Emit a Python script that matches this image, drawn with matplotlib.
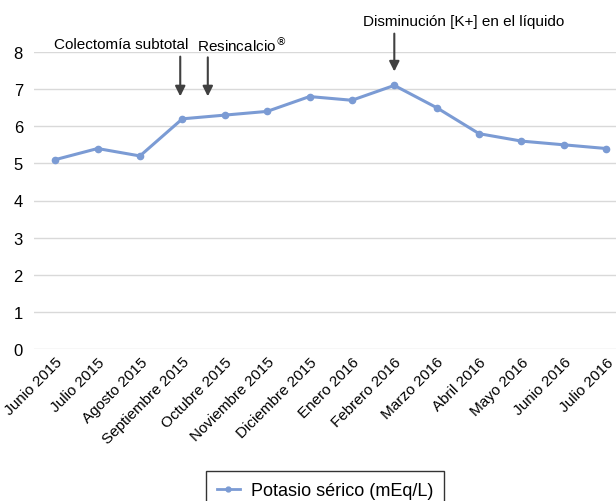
import matplotlib
matplotlib.use("Agg")
import matplotlib.pyplot as plt
from matplotlib.lines import Line2D

categories = ["Junio 2015", "Julio 2015", "Agosto 2015", "Septiembre 2015", "Octubre 2015",
              "Noviembre 2015", "Diciembre 2015", "Enero 2016", "Febrero 2016", "Marzo 2016",
              "Abril 2016", "Mayo 2016", "Junio 2016", "Julio 2016"]
potasio = [5.1, 5.4, 5.2, 6.2, 6.3, 6.4, 6.8, 6.7, 7.1, 6.5, 5.8, 5.6, 5.5, 5.4]
yticks = [0, 1, 2, 3, 4, 5, 6, 7, 8]
series_label = "Potasio sérico (mEq/L)"

plt.rcParams['font.family'] = ['Liberation Sans', 'DejaVu Sans']

fig = plt.figure(figsize=(6.16, 5.02), dpi=100)
ax = fig.add_axes([34/616, 1-350/502, 1-34/616, (350-53)/502])

color = "#7b9bd4"
x = list(range(len(categories)))
ax.plot(x, potasio, color=color, lw=2.2, marker='o', ms=4.5, label=series_label, clip_on=False)

ax.set_xlim(-0.5, 13.23)
ax.set_ylim(0, 8)
ax.set_yticks(yticks)
ax.set_yticklabels([str(v) for v in yticks], fontsize=12)
ax.set_xticks(x)
ax.set_xticklabels(categories, rotation=45, ha='right', rotation_mode='anchor', fontsize=11)
ax.tick_params(axis='both', length=0)
ax.tick_params(axis='y', pad=8)
ax.tick_params(axis='x', pad=4)
for s in ax.spines.values():
    s.set_visible(False)
ax.grid(axis='y', color='#d9d9d9', lw=1)
ax.set_axisbelow(True)

arrow_kw = dict(arrowstyle='-|>,head_width=0.3,head_length=0.6', color='#404040', lw=1.5)
ax.annotate("", xy=(2.95, 6.73), xytext=(2.95, 7.95), arrowprops=arrow_kw, annotation_clip=False)
ax.annotate("", xy=(3.6, 6.73), xytext=(3.6, 7.93), arrowprops=arrow_kw, annotation_clip=False)
ax.annotate("", xy=(8.0, 7.4), xytext=(8.0, 8.57), arrowprops=arrow_kw, annotation_clip=False)

ax.text(-0.03, 8.22, "Colectomía subtotal", fontsize=11, ha='left', va='center')
ax.text(3.35, 8.22, "Resincalcio$^{®}$", fontsize=11, ha='left', va='center')
ax.text(7.26, 8.84, "Disminución [K+] en el líquido", fontsize=11, ha='left', va='center', clip_on=False)

handle = Line2D([0], [0], color=color, lw=2, marker='o', ms=3.5)
leg = fig.legend([handle], [series_label], loc='upper center', bbox_to_anchor=(325/616, 1-463/502),
                 fontsize=13, frameon=True, fancybox=False, edgecolor='black', borderpad=0.6,
                 handlelength=1.3, handletextpad=0.6)
leg.get_frame().set_linewidth(1.0)

fig.savefig("out.png", dpi=100)
